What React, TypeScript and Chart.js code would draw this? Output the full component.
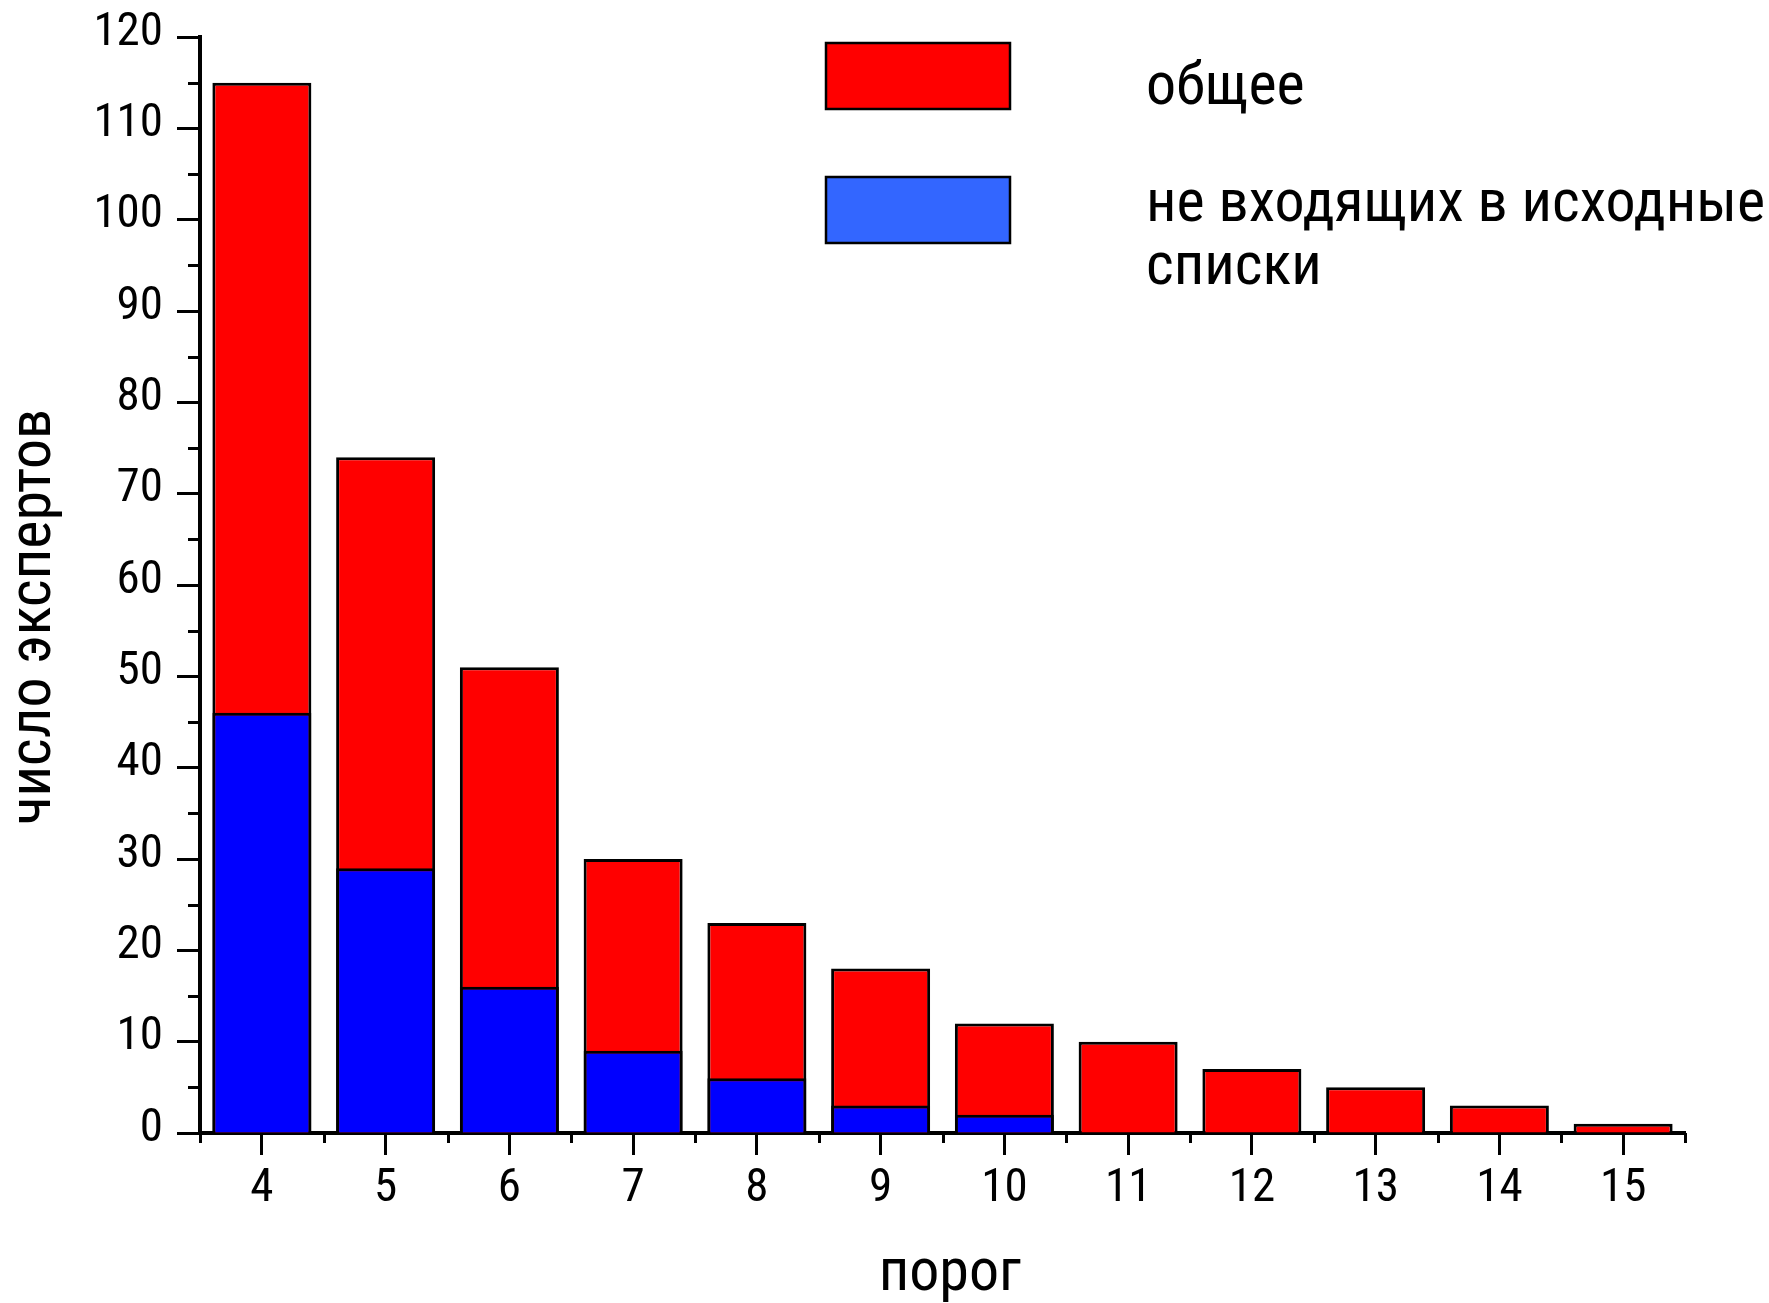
import React, { useEffect, useRef } from 'react';
import { Chart, registerables } from 'chart.js';

Chart.register(...registerables);

// ---- data ----
const categories = ['4', '5', '6', '7', '8', '9', '10', '11', '12', '13', '14', '15'];
const totalExperts = [115, 74, 51, 30, 23, 18, 12, 10, 7, 5, 3, 1];
const notInLists = [46, 29, 16, 9, 6, 3, 2, 0, 0, 0, 0, 0];
const seriesNames = ['общее', 'не входящих в исходные списки'];
const legendLines = [['общее'], ['не входящих в исходные', 'списки']];
const yMin = 0;
const yMax = 120;
const yStep = 10;
const yMinorStep = 5;
const xTitle = 'порог';
const yTitle = 'число экспертов';

// ---- style ----
const FAMILY = "'Roboto Condensed', 'Liberation Sans', Arial, sans-serif";
const W = 1769;
const H = 1303;
const barColors = ['#FF0000', '#0000FF'];
const legendColors = ['#FF0000', '#3366FF'];

const decorPlugin = {
  id: 'decor',
  afterDraw(chart: any) {
    const { ctx, chartArea, scales } = chart;
    const xs = scales.x;
    const ys = scales.y;
    ctx.save();
    ctx.strokeStyle = '#000';
    ctx.lineWidth = 3;
    ctx.beginPath();
    // minor ticks
    for (let v = yMin + yMinorStep; v < yMax; v += yStep) {
      const py = Math.round(ys.getPixelForValue(v)) + 0.5;
      ctx.moveTo(chartArea.left - 12, py);
      ctx.lineTo(chartArea.left, py);
    }
    for (let i = 0; i <= categories.length; i++) {
      const px = Math.round(xs.getPixelForValue(i - 0.5)) + 0.5;
      ctx.moveTo(px, chartArea.bottom);
      ctx.lineTo(px, chartArea.bottom + 10);
    }
    ctx.stroke();

    // axis titles
    ctx.fillStyle = '#000';
    ctx.font = `60px ${FAMILY}`;
    ctx.textBaseline = 'alphabetic';
    ctx.textAlign = 'center';
    ctx.fillText(xTitle, 950, 1290);
    ctx.save();
    ctx.translate(50, 617);
    ctx.rotate(-Math.PI / 2);
    ctx.fillText(yTitle, 0, 0);
    ctx.restore();

    // legend
    const boxLeft = 826;
    const boxW = 184;
    const boxH = 66;
    const boxTops = [43, 177];
    const textLeft = 1146;
    const baselines = [[104], [221, 284]];
    ctx.textAlign = 'left';
    legendLines.forEach((lines, i) => {
      ctx.fillStyle = legendColors[i];
      ctx.fillRect(boxLeft, boxTops[i], boxW, boxH);
      ctx.lineWidth = 2.5;
      ctx.strokeStyle = '#000';
      ctx.strokeRect(boxLeft, boxTops[i], boxW, boxH);
      ctx.fillStyle = '#000';
      lines.forEach((t, j) => ctx.fillText(t, textLeft, baselines[i][j]));
    });
    ctx.restore();
  },
};

export default function App() {
  const ref = useRef<HTMLCanvasElement | null>(null);

  useEffect(() => {
    if (!ref.current) return;
    const chart = new Chart(ref.current, {
      type: 'bar',
      data: {
        labels: categories,
        datasets: [
          {
            label: seriesNames[0],
            data: totalExperts,
            backgroundColor: barColors[0],
            borderColor: '#000',
            borderWidth: 3,
            grouped: false,
            order: 2,
            barPercentage: 0.8,
            categoryPercentage: 1,
          },
          {
            label: seriesNames[1],
            data: notInLists,
            backgroundColor: barColors[1],
            borderColor: '#000',
            borderWidth: 3,
            grouped: false,
            order: 1,
            barPercentage: 0.8,
            categoryPercentage: 1,
          },
        ],
      } as any,
      options: {
        responsive: false,
        animation: false,
        devicePixelRatio: 1,
        layout: { padding: { top: 37, right: 84, left: 0, bottom: 0 } },
        plugins: {
          legend: { display: false },
          tooltip: { enabled: false },
        },
        scales: {
          x: {
            type: 'category',
            offset: true,
            grid: {
              display: true,
              drawOnChartArea: false,
              drawTicks: true,
              tickLength: 22,
              tickWidth: 3,
              tickColor: '#000',
              offset: false,
            },
            border: { display: true, color: '#000', width: 4 },
            ticks: {
              color: '#000',
              font: { family: FAMILY, size: 47 },
              padding: 6,
              maxRotation: 0,
              autoSkip: false,
            },
            afterFit: (s: any) => {
              s.height = 170;
            },
          },
          y: {
            min: yMin,
            max: yMax,
            ticks: {
              stepSize: yStep,
              color: '#000',
              font: { family: FAMILY, size: 47, lineHeight: 0.9 },
              padding: 14,
              labelOffset: -4,
            },
            grid: {
              display: true,
              drawOnChartArea: false,
              drawTicks: true,
              tickLength: 23,
              tickWidth: 3,
              tickColor: '#000',
            },
            border: { display: true, color: '#000', width: 4 },
            afterFit: (s: any) => {
              s.width = 200;
              s.paddingTop = 0;
              s.paddingBottom = 0;
            },
          },
        },
      } as any,
      plugins: [decorPlugin],
    });
    return () => chart.destroy();
  }, []);

  return (
    <div style={{ position: 'fixed', left: 0, top: 0, width: W, height: H, background: '#fff' }}>
      <canvas ref={ref} width={W} height={H} style={{ display: 'block', width: W, height: H }} />
    </div>
  );
}
